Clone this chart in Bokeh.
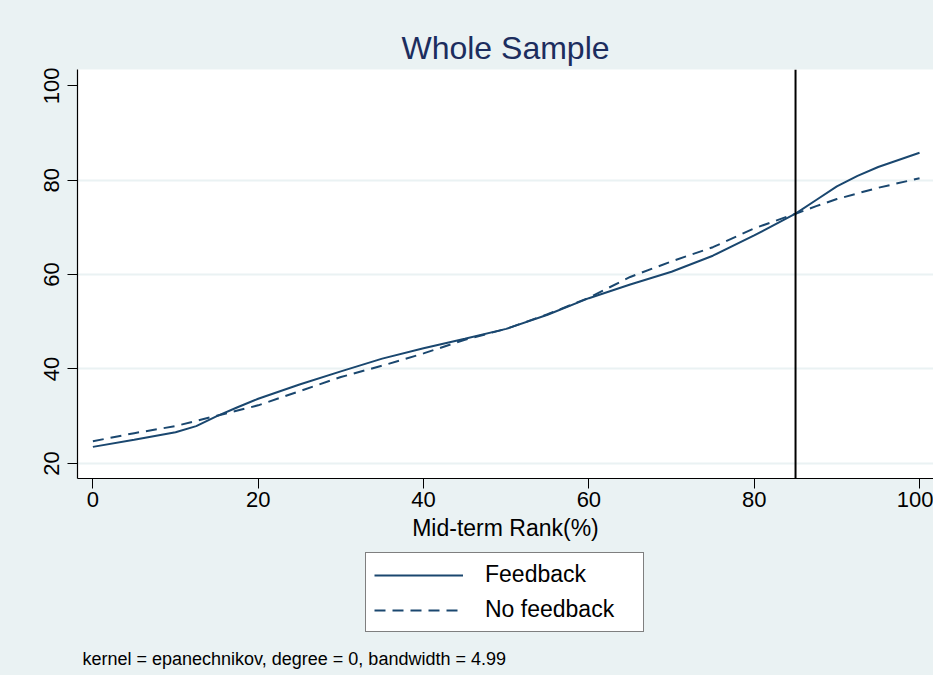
from bokeh.plotting import figure
from bokeh.layouts import column
from bokeh.models import (Range1d, FixedTicker, Span, Legend, LegendItem, Label)
from bokeh.embed import file_html
from bokeh.resources import INLINE

# ---- data ----
rank = [0, 5, 10, 12.5, 15, 17.5, 20, 25, 30, 35, 40, 45, 50, 55, 60, 65, 70, 75, 80, 85,
        87.5, 90, 92.5, 95, 100]
feedback = [23.5, 25.0, 26.6, 27.9, 30.0, 31.9, 33.7, 36.7, 39.5, 42.2, 44.4, 46.4, 48.5,
            51.5, 55.0, 57.9, 60.6, 64.0, 68.3, 72.9, 75.8, 78.7, 80.9, 82.8, 85.8]
no_feedback = [24.7, 26.4, 27.9, 29.0, 30.1, 31.2, 32.3, 35.3, 38.3, 40.7, 43.3, 46.2, 48.5,
               51.6, 55.1, 59.5, 62.8, 65.8, 69.8, 72.9, 74.5, 76.0, 77.2, 78.4, 80.4]
x_ticks = [0, 20, 40, 60, 80, 100]
y_ticks = [20, 40, 60, 80, 100]
grid_ticks = [20, 40, 60, 80]
cutoff = 85
title_text = "Whole Sample"
x_title = "Mid-term Rank(%)"
note_text = "kernel = epanechnikov, degree = 0, bandwidth = 4.99"
labels = ["Feedback", "No feedback"]

BG = "#EAF2F3"
LINE = "#1A476F"
FONT = "Liberation Sans"
DASH = "11 7"

# ---------------- main plot ----------------
p = figure(width=933, height=550, output_backend="svg", toolbar_location=None,
           x_range=Range1d(-1.86, 101.69), y_range=Range1d(16.8, 103.45),
           min_border_left=77, min_border_right=0, min_border_top=69, min_border_bottom=72)
p.background_fill_color = "white"
p.border_fill_color = BG
p.outline_line_color = None

p.title.text = title_text
p.title.align = "center"
p.title.text_font = FONT
p.title.text_font_size = "32px"
p.title.text_font_style = "normal"
p.title.text_color = "#1C2D5E"
p.title.standoff = 7

for ax in (p.xaxis[0], p.yaxis[0]):
    ax.axis_line_color = "black"
    ax.axis_line_width = 1.2
    ax.major_tick_line_color = "black"
    ax.major_tick_out = 10
    ax.major_tick_in = 0
    ax.minor_tick_line_color = None
    ax.major_label_text_font = FONT
    ax.major_label_text_font_size = "22px"
    ax.major_label_text_color = "black"
p.xaxis.ticker = FixedTicker(ticks=x_ticks)
p.yaxis.ticker = FixedTicker(ticks=y_ticks)
p.xaxis.major_label_standoff = 3
p.yaxis.major_label_standoff = 8
p.yaxis.major_label_orientation = "vertical"
p.xaxis.axis_label = x_title
p.xaxis.axis_label_text_font = FONT
p.xaxis.axis_label_text_font_size = "23px"
p.xaxis.axis_label_text_font_style = "normal"
p.xaxis.axis_label_text_color = "black"
p.xaxis.axis_label_standoff = 5

p.xgrid.grid_line_color = None
p.ygrid.ticker = FixedTicker(ticks=grid_ticks)
p.ygrid.grid_line_color = BG
p.ygrid.grid_line_width = 2

p.line(rank, feedback, line_color=LINE, line_width=2)
p.line(rank, no_feedback, line_color=LINE, line_width=2, line_dash=DASH)
p.add_layout(Span(location=cutoff, dimension="height", line_color="black", line_width=2))

# ---------------- legend + note strip ----------------
p2 = figure(width=933, height=125, output_backend="svg", toolbar_location=None,
            x_range=Range1d(0, 1), y_range=Range1d(0, 1),
            x_axis_type=None, y_axis_type=None,
            min_border_left=77, min_border_right=0, min_border_top=0, min_border_bottom=0)
p2.background_fill_color = None
p2.border_fill_color = BG
p2.outline_line_color = None
p2.grid.grid_line_color = None

# legend key renderers (same series; they lie outside this strip's ranges)
k1 = p2.line(rank, feedback, line_color=LINE, line_width=2)
k2 = p2.line(rank, no_feedback, line_color=LINE, line_width=2, line_dash=DASH)

legend = Legend(items=[LegendItem(label=labels[0], renderers=[k1]),
                       LegendItem(label=labels[1], renderers=[k2])],
                location=(288, 43), orientation="vertical")
legend.label_text_font = FONT
legend.label_text_font_size = "23px"
legend.label_text_color = "black"
legend.glyph_width = 89
legend.glyph_height = 22
legend.label_height = 22
legend.label_standoff = 22
legend.label_width = 150
legend.spacing = 8
legend.padding = 8
legend.margin = 0
legend.border_line_color = "black"
legend.border_line_width = 1
legend.background_fill_color = "white"
legend.background_fill_alpha = 1
p2.add_layout(legend, "center")

note = Label(x=5, y=17, x_units="screen", y_units="screen", text=note_text,
             text_font=FONT, text_font_size="18px", text_color="black",
             text_baseline="middle", text_align="left")
p2.add_layout(note)

layout = column(p, p2, spacing=0, styles={"background-color": BG})
open("out.html", "w").write(file_html(layout, INLINE))
